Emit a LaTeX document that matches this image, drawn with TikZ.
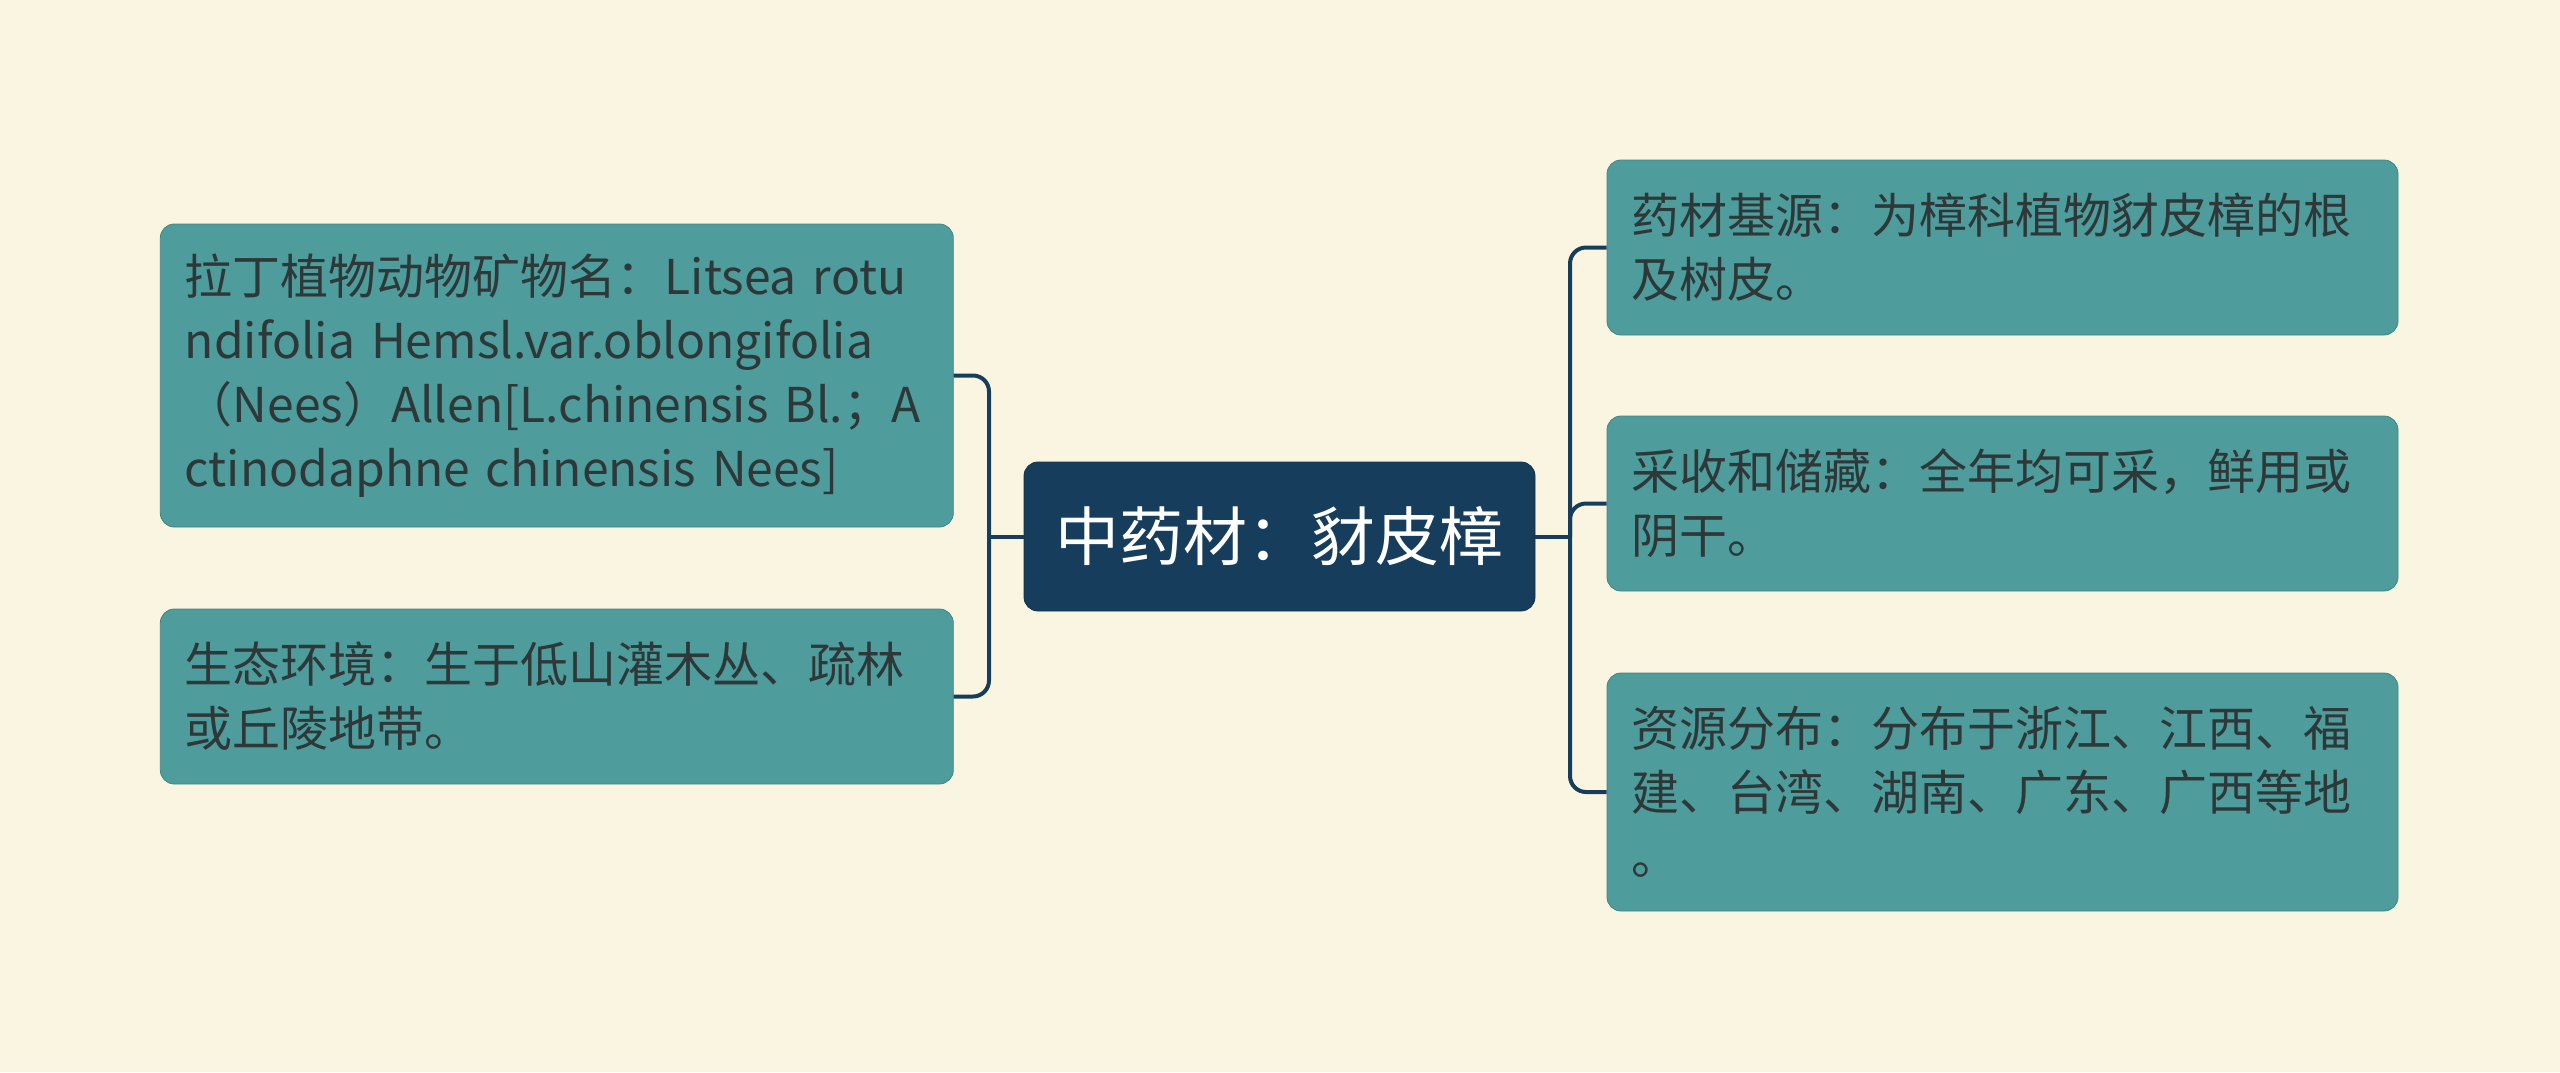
\documentclass[tikz,border=0pt]{standalone}
\usepackage{fontspec}
\newfontfamily\cjk{Noto Sans CJK SC}
\definecolor{bg}{HTML}{FAF5E1}
\definecolor{teal}{HTML}{4E9C9C}
\definecolor{navy}{HTML}{173D5C}
\definecolor{ink}{HTML}{2E3838}
\begin{document}
\begin{tikzpicture}[x=0.5pt,y=-0.5pt,
  leaf/.style={draw=teal!85!black, line width=0.4pt, fill=teal, rounded corners=7pt,
    text=ink, align=left, inner xsep=12pt, inner ysep=0pt,
    font=\cjk\fontsize{24pt}{32pt}\selectfont},
  root/.style={draw=navy!80!black, line width=0.4pt, fill=navy, rounded corners=7pt,
    text=white, align=center, minimum width=255.5pt, minimum height=74.5pt,
    font=\cjk\fontsize{32pt}{40pt}\selectfont},
  conn/.style={draw=navy, line width=2pt, rounded corners=8pt}]
\fill[bg] (0,0) rectangle (2560,1072);
\useasboundingbox (0,0) rectangle (2560,1072);

\node[root] (C) at (1279.5,536.5) {中药材：豺皮樟};

\node[leaf, text width=372pt, minimum width=396.5pt, minimum height=151.5pt] (L1) at (556.8,375.5)
  {拉丁植物动物矿物名：Litsea rotu\\ndifolia Hemsl.var.oblongifolia\\（Nees）Allen[L.chinensis Bl.；A\\ctinodaphne chinensis Nees]};
\node[leaf, text width=372pt, minimum width=396.5pt, minimum height=87.5pt] (L2) at (556.8,696.5)
  {生态环境：生于低山灌木丛、疏林\\或丘陵地带。};

\node[leaf, text width=371pt, minimum width=395.5pt, minimum height=87.5pt] (R1) at (2002.5,247.5)
  {药材基源：为樟科植物豺皮樟的根\\及树皮。};
\node[leaf, text width=371pt, minimum width=395.5pt, minimum height=87.5pt] (R2) at (2002.5,503.5)
  {采收和储藏：全年均可采，鲜用或\\阴干。};
\node[leaf, text width=371pt, minimum width=395.5pt, minimum height=119pt] (R3) at (2002.5,792)
  {资源分布：分布于浙江、江西、福\\建、台湾、湖南、广东、广西等地\\。};

\coordinate (jl) at (989,536.5);
\coordinate (jr) at (1570,536.5);

\draw[conn] (C.west) -- (jl);
\draw[conn] (L1.east) -| (jl) |- (L2.east);
\draw[conn] (C.east) -- (jr);
\draw[conn] (R1.west) -| (jr) |- (R3.west);
\draw[conn] (jr) |- (R2.west);
\end{tikzpicture}
\end{document}
